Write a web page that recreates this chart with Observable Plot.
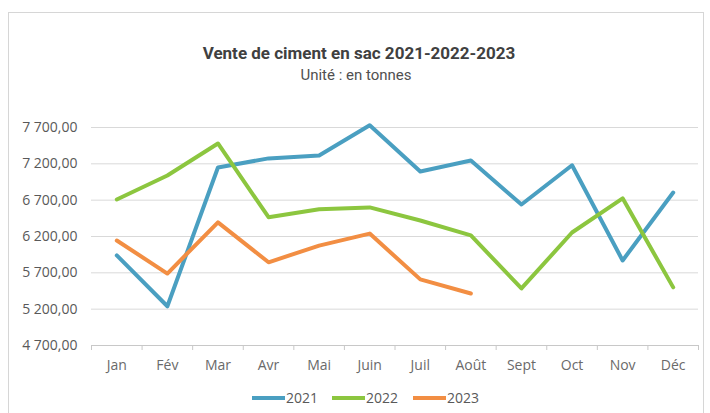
<!DOCTYPE html>
<html>
<head>
<meta charset="utf-8">
<script src="https://cdn.jsdelivr.net/npm/d3@7"></script>
<script src="https://cdn.jsdelivr.net/npm/@observablehq/plot@0.6"></script>
<style>
  html, body { margin: 0; padding: 0; background: #fff; }
  #wrap { position: relative; width: 710px; height: 413px; overflow: hidden; background: #fff; }
  #frame { position: absolute; left: 8px; top: 12px; width: 696px; height: 420px; border: 1.5px solid #d6d6d6; box-sizing: border-box; }
  #title { position: absolute; left: 0; width: 718px; top: 43px; text-align: center; font-family: Roboto, sans-serif; font-weight: bold; font-size: 17px; color: #404040; line-height: 20px; }
  #subtitle { position: absolute; left: 0; width: 712px; top: 66px; text-align: center; font-family: Roboto, sans-serif; font-size: 15px; color: #505050; line-height: 18px; }
  #chart { position: absolute; left: 0; top: 100px; }
  #legend { position: absolute; top: 388px; left: 0; width: 710px; height: 20px; font-family: "Open Sans", sans-serif; font-size: 14px; color: #595959; }
  .lg { position: absolute; top: 0; height: 20px; line-height: 20px; white-space: nowrap; }
  .sw { display: inline-block; width: 33px; height: 4px; vertical-align: middle; margin-right: 1px; position: relative; top: -1px; }
</style>
</head>
<body>
<div id="wrap">
  <div id="frame"></div>
  <div id="title">Vente de ciment en sac 2021-2022-2023</div>
  <div id="subtitle">Unité : en tonnes</div>
  <div id="chart"></div>
  <div id="legend"></div>
</div>
<script>
const months = ["Jan", "Fév", "Mar", "Avr", "Mai", "Juin", "Juil", "Août", "Sept", "Oct", "Nov", "Déc"];
const series = ["2021", "2022", "2023"];
const colors = ["#4a9fc1", "#8cc63f", "#f28e43"];
const v2021 = [5940, 5240, 7150, 7275, 7315, 7730, 7095, 7245, 6640, 7180, 5870, 6805];
const v2022 = [6710, 7040, 7480, 6465, 6575, 6600, 6420, 6215, 5485, 6255, 6725, 5500];
const v2023 = [6145, 5690, 6395, 5845, 6075, 6240, 5610, 5415];
const yTicks = [4700, 5200, 5700, 6200, 6700, 7200, 7700];

const values = [v2021, v2022, v2023];
const rows = [];
values.forEach((arr, s) => arr.forEach((v, i) => rows.push({series: series[s], i, month: months[i], value: v})));

const fr = d3.formatLocale({decimal: ",", thousands: " ", grouping: [3], currency: ["", " €"]});
const fmt = fr.format(",.2f");

const idx = months.map((m, i) => i);
const bounds = d3.range(-0.5, months.length, 1);

const plot = Plot.plot({
  width: 710,
  height: 280,
  marginLeft: 91,
  marginRight: 12,
  marginTop: 27,
  marginBottom: 35,
  style: {fontFamily: "'Open Sans', sans-serif", fontSize: "14px", color: "#595959", background: "transparent"},
  x: {type: "linear", domain: [-0.5, months.length - 0.5]},
  y: {domain: [4700, 7700]},
  color: {domain: series, range: colors},
  marks: [
    Plot.ruleY(yTicks.slice(1), {stroke: "#d9d9d9", strokeWidth: 1}),
    Plot.ruleY([4700], {stroke: "#c8c8c8", strokeWidth: 1}),
    Plot.ruleX(bounds, {x: d => d, y1: 4700, y2: 4700, insetBottom: -5, stroke: "#c8c8c8", strokeWidth: 1}),
    Plot.axisY({ticks: yTicks, tickFormat: fmt, tickSize: 0, tickPadding: 14, label: null, fill: "#595959"}),
    Plot.axisX({ticks: idx, tickFormat: i => months[i], tickSize: 0, tickPadding: 15, label: null, fill: "#6a6a6a"}),
    Plot.line(rows, {x: "i", y: "value", z: "series", stroke: "series", strokeWidth: 4, strokeLinejoin: "round", strokeLinecap: "round"})
  ]
});
document.getElementById("chart").appendChild(plot);

// legend
const legend = document.getElementById("legend");
const lefts = [252, 332, 413];
series.forEach((s, k) => {
  const el = document.createElement("div");
  el.className = "lg";
  el.style.left = lefts[k] + "px";
  const sw = document.createElement("span");
  sw.className = "sw";
  sw.style.background = colors[k];
  el.appendChild(sw);
  el.appendChild(document.createTextNode(s));
  legend.appendChild(el);
});
</script>
</body>
</html>
